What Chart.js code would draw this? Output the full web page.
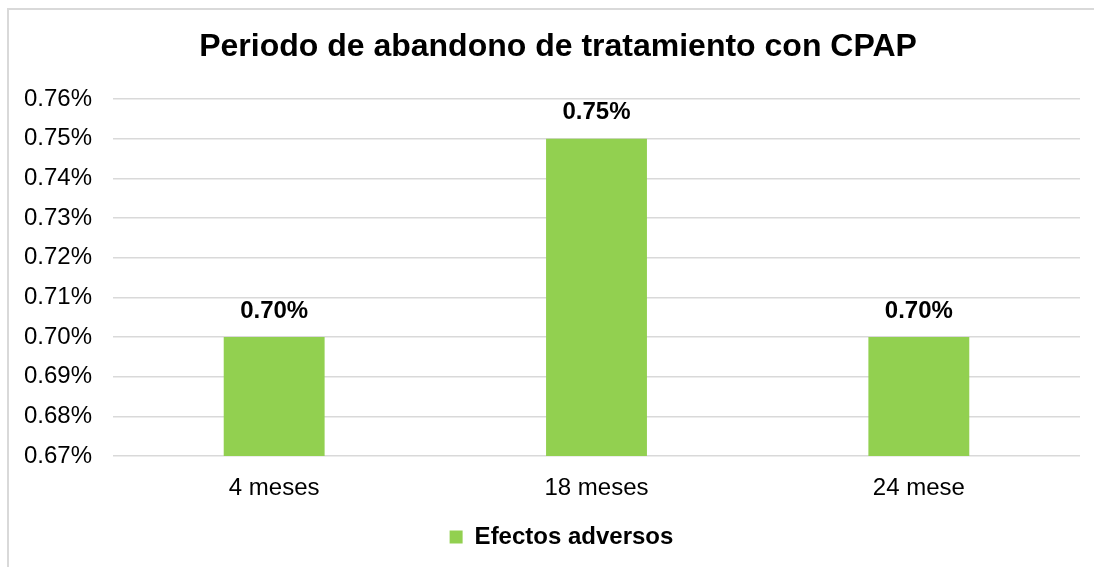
<!DOCTYPE html>
<html>
<head>
<meta charset="utf-8">
<script src="https://cdn.jsdelivr.net/npm/chart.js@4/dist/chart.umd.min.js"></script>
<style>
  html, body { margin: 0; padding: 0; background: #fff; overflow: hidden; }
  canvas { display: block; }
</style>
</head>
<body>
<canvas id="chart" width="1094" height="567"></canvas>
<script>
// periods and share of CPAP abandonment
const periods = ['4 meses', '18 meses', '24 mese'];
const adverseEffects = [0.70, 0.75, 0.70];
const seriesName = 'Efectos adversos';
const chartTitle = 'Periodo de abandono de tratamiento con CPAP';
const yMin = 0.67;
const yMax = 0.76;
const yStep = 0.01;

const FONT = "'Liberation Sans', Arial, sans-serif";
const GREEN = '#92d050';

// value labels above each bar
const barLabels = {
  id: 'barLabels',
  afterDatasetsDraw(chart) {
    const ctx = chart.ctx;
    ctx.save();
    ctx.font = 'bold 24px ' + FONT;
    ctx.fillStyle = '#000';
    ctx.textAlign = 'center';
    ctx.textBaseline = 'middle';
    chart.data.datasets.forEach((ds, i) => {
      chart.getDatasetMeta(i).data.forEach((bar, j) => {
        ctx.fillText(ds.data[j].toFixed(2) + '%', bar.x, bar.y - 26);
      });
    });
    ctx.restore();
  }
};

// outer frame plus a title centred on it rather than on the plot
const frameTitle = {
  id: 'frameTitle',
  afterLayout(chart) {
    // nudge the legend so it sits under the frame centre too
    if (chart.legend) {
      chart.legend.left += 20;
      chart.legend.right += 20;
    }
  },
  beforeDraw(chart) {
    const ctx = chart.ctx;
    ctx.save();
    ctx.strokeStyle = '#d9d9d9';
    ctx.lineWidth = 2;
    ctx.strokeRect(8, 9, chart.width + 50, chart.height + 50);
    ctx.restore();
  },
  afterDraw(chart) {
    const ctx = chart.ctx;
    ctx.save();
    ctx.font = 'bold 32px ' + FONT;
    ctx.fillStyle = '#000';
    ctx.textAlign = 'center';
    ctx.textBaseline = 'middle';
    ctx.fillText(chartTitle, 558, 47);
    ctx.restore();
  }
};

const ctx = document.getElementById('chart').getContext('2d');

new Chart(ctx, {
  type: 'bar',
  data: {
    labels: periods,
    datasets: [{
      label: seriesName,
      data: adverseEffects,
      backgroundColor: GREEN,
      borderWidth: 0,
      categoryPercentage: 1,
      barPercentage: 0.313
    }]
  },
  options: {
    responsive: false,
    animation: false,
    layout: { padding: { top: 99, left: 3, right: 14, bottom: 8 } },
    scales: {
      x: {
        grid: { display: false },
        border: { display: false },
        ticks: {
          color: '#000',
          padding: 10,
          font: { family: FONT, size: 24 }
        },
        afterFit(scale) { scale.height = 59; }
      },
      y: {
        min: yMin,
        max: yMax,
        grid: { color: '#d9d9d9', lineWidth: 1.5, drawTicks: false },
        border: { display: false },
        ticks: {
          stepSize: yStep,
          color: '#000',
          padding: 21,
          font: { family: FONT, size: 24 },
          callback: (v) => v.toFixed(2) + '%'
        },
        afterFit(scale) { scale.width = 110; }
      }
    },
    plugins: {
      title: { display: false },
      legend: {
        position: 'bottom',
        labels: {
          color: '#000',
          boxWidth: 13,
          boxHeight: 13,
          padding: 10,
          font: { family: FONT, size: 24, weight: 'bold' }
        }
      },
      tooltip: { enabled: false }
    }
  },
  plugins: [barLabels, frameTitle]
});
</script>
</body>
</html>
